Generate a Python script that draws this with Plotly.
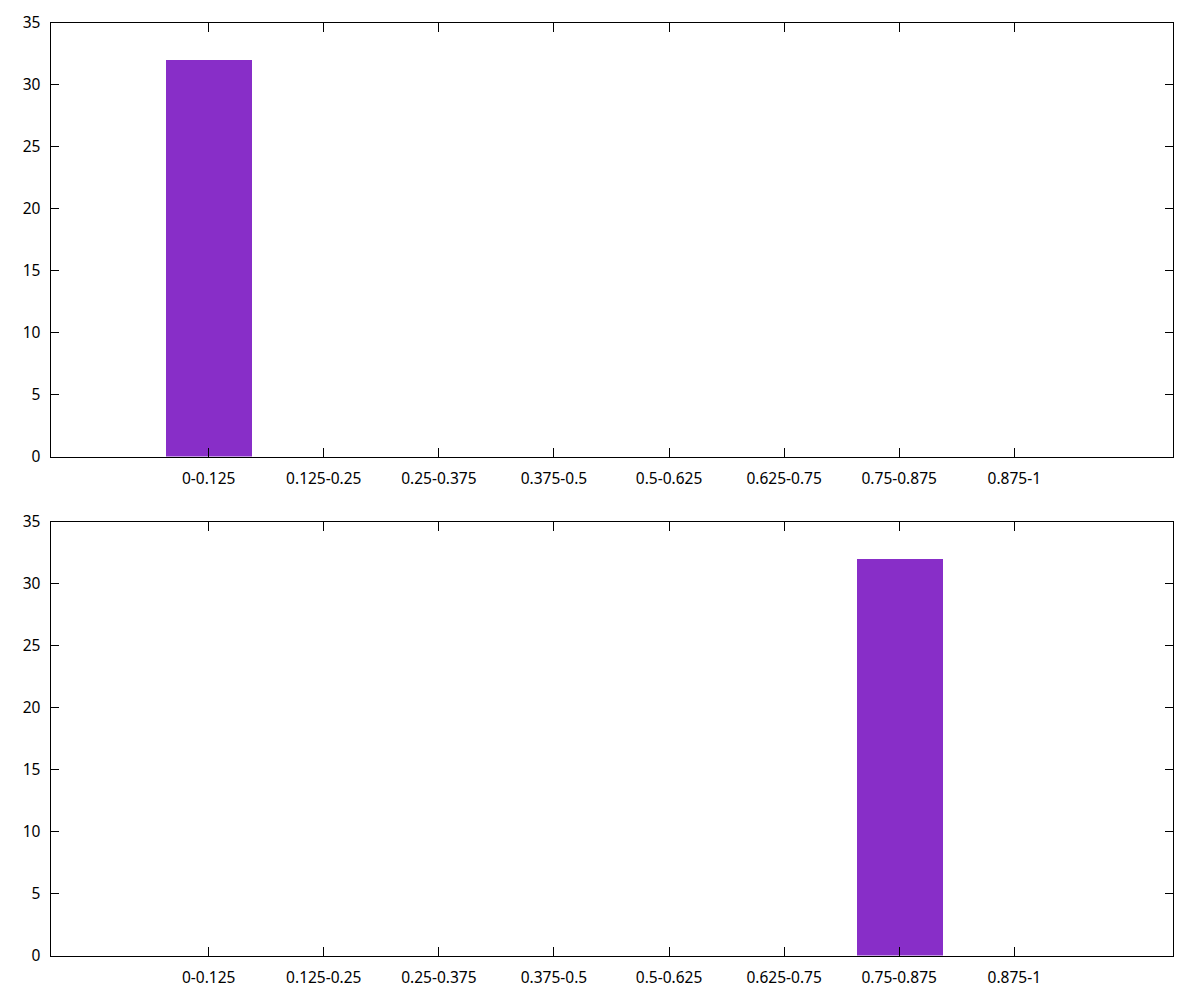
import plotly.graph_objects as go

categories = ["0-0.125", "0.125-0.25", "0.25-0.375", "0.375-0.5",
              "0.5-0.625", "0.625-0.75", "0.75-0.875", "0.875-1"]
top_values = [32, 0, 0, 0, 0, 0, 0, 0]
bottom_values = [0, 0, 0, 0, 0, 0, 32, 0]
y_ticks = [0, 5, 10, 15, 20, 25, 30, 35]

positions = list(range(len(categories)))
bar_color = "#882ec8"


def nonzero(vals):
    return [v if v else None for v in vals]


fig = go.Figure()
fig.add_trace(go.Bar(x=positions, y=nonzero(top_values), width=0.75,
                     marker=dict(color=bar_color, line=dict(width=0)),
                     xaxis="x", yaxis="y", showlegend=False))
fig.add_trace(go.Bar(x=positions, y=nonzero(bottom_values), width=0.75,
                     marker=dict(color=bar_color, line=dict(width=0)),
                     xaxis="x2", yaxis="y2", showlegend=False))

W, H = 1200, 1000
OFF = 7.5  # page offset of the plot div
xdom = [(50 - OFF) / W, (1172 - OFF) / W]
top_dom = [1 - (456 - OFF) / H, 1 - (22 - OFF) / H]
bot_dom = [1 - (955 - OFF) / H, 1 - (521 - OFF) / H]

tfont = dict(family="Noto Sans", size=15.5, color="black")

xcommon = dict(range=[-1.375, 8.375], tickmode="array", tickvals=positions,
               ticktext=categories, ticks="inside", ticklen=9, tickcolor="black",
               showline=True, linecolor="black", linewidth=1, mirror="ticks",
               showgrid=False, zeroline=False, domain=xdom, automargin=False,
               tickfont=tfont, ticklabelstandoff=8)
ycommon = dict(range=[0, 35], tickmode="array", tickvals=y_ticks,
               ticks="inside", ticklen=8, tickcolor="black",
               showline=True, linecolor="black", linewidth=1, mirror="ticks",
               showgrid=False, zeroline=False, automargin=False,
               tickfont=tfont, ticklabelstandoff=6)

fig.update_layout(
    width=W, height=H, margin=dict(l=0, r=0, t=0, b=0, autoexpand=False),
    paper_bgcolor="white", plot_bgcolor="white",
    xaxis=dict(**xcommon, anchor="y"),
    yaxis=dict(**ycommon, domain=top_dom, anchor="x"),
    xaxis2=dict(**xcommon, anchor="y2"),
    yaxis2=dict(**ycommon, domain=bot_dom, anchor="x2"),
    bargap=0,
)

fig.write_html("out.html")
